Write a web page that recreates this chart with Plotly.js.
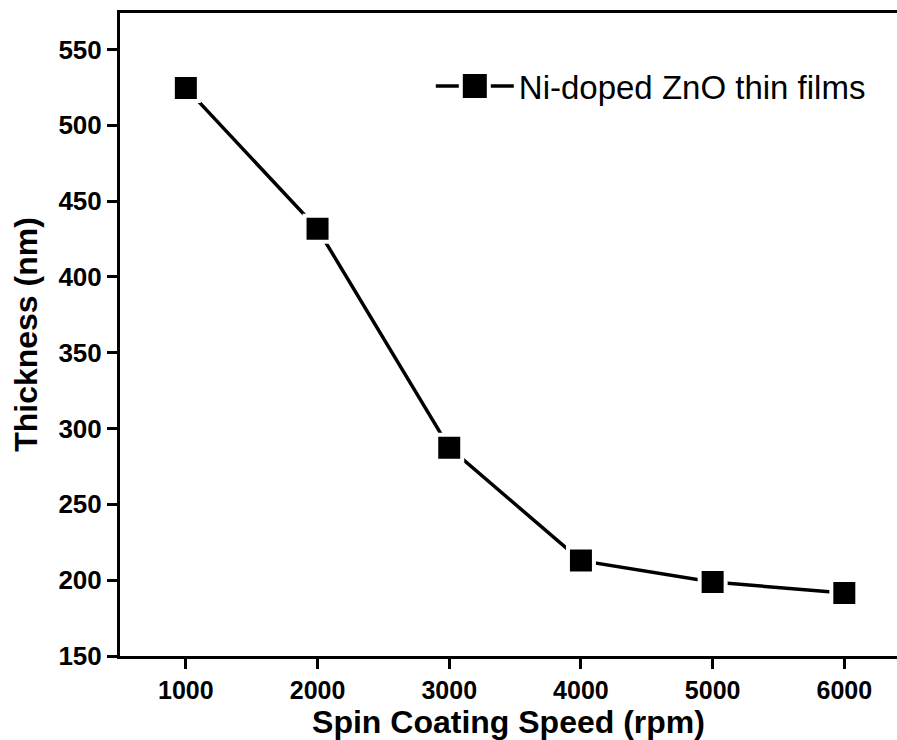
<!DOCTYPE html>
<html>
<head>
<meta charset="utf-8">
<script src="https://cdn.plot.ly/plotly-3.0.1.min.js"></script>
<style>html,body{margin:0;padding:0;background:#fff;}</style>
</head>
<body>
<div id="chart" style="width:897px;height:740px;"></div>
<script>
const speed = [1000, 2000, 3000, 4000, 5000, 6000];
const thickness = [524.6, 431.7, 287.4, 212.9, 198.8, 191.5];
const seriesName = 'Ni-doped ZnO thin films';
const xTicks = [1000, 2000, 3000, 4000, 5000, 6000];
const yTicks = [150, 200, 250, 300, 350, 400, 450, 500, 550];

const FONT = 'Liberation Sans, Arial, Helvetica, sans-serif';

const trace = {
  x: speed,
  y: thickness,
  name: seriesName,
  type: 'scatter',
  mode: 'lines+markers',
  line: {color: '#000', width: 3.5},
  marker: {symbol: 'square', size: 26, color: '#000', line: {color: '#fff', width: 4}},
  showlegend: true
};

const layout = {
  width: 897,
  height: 740,
  margin: {l: 120, r: 0, t: 13, b: 84},
  paper_bgcolor: '#fff',
  plot_bgcolor: '#fff',
  font: {family: FONT, color: '#000'},
  xaxis: {
    range: [500, 6400],
    tickvals: xTicks,
    ticktext: xTicks.map(String),
    showgrid: false,
    zeroline: false,
    showline: true,
    linecolor: '#000',
    linewidth: 3,
    mirror: true,
    ticks: 'outside',
    ticklen: 10,
    tickwidth: 3,
    tickcolor: '#000',
    tickfont: {family: FONT, size: 25, weight: 'bold', color: '#000'},
    title: {text: 'Spin Coating Speed (rpm)', font: {family: FONT, size: 32, weight: 'bold', color: '#000'}, standoff: 6}
  },
  yaxis: {
    range: [150, 574],
    tickvals: yTicks,
    ticktext: yTicks.map(String),
    showgrid: false,
    zeroline: false,
    showline: true,
    linecolor: '#000',
    linewidth: 3,
    mirror: false,
    ticks: 'outside',
    ticklen: 10,
    tickwidth: 3,
    tickcolor: '#000',
    tickfont: {family: FONT, size: 26, weight: 'bold', color: '#000'},
    title: {text: 'Thickness (nm)', font: {family: FONT, size: 32, weight: 'bold', color: '#000'}, standoff: 12}
  },
  legend: {
    x: 0.40, y: 0.93, xanchor: 'left', yanchor: 'top',
    bgcolor: 'rgba(0,0,0,0)',
    borderwidth: 0,
    itemwidth: 78,
    font: {family: FONT, size: 33, color: '#000'}
  },
  showlegend: true
};

Plotly.newPlot('chart', [trace], layout, {displayModeBar: false, staticPlot: true}).then(function (gd) {
  // enlarge legend marker to match the plotted marker size (legend caps marker size)
  gd.querySelectorAll('.legend .legendpoints path.scatterpts').forEach(function (p) {
    const t = p.getAttribute('transform') || '';
    p.setAttribute('transform', t + ' scale(1.75)');
    p.style.strokeWidth = (4 / 1.75) + 'px';
  });
});
</script>
</body>
</html>
